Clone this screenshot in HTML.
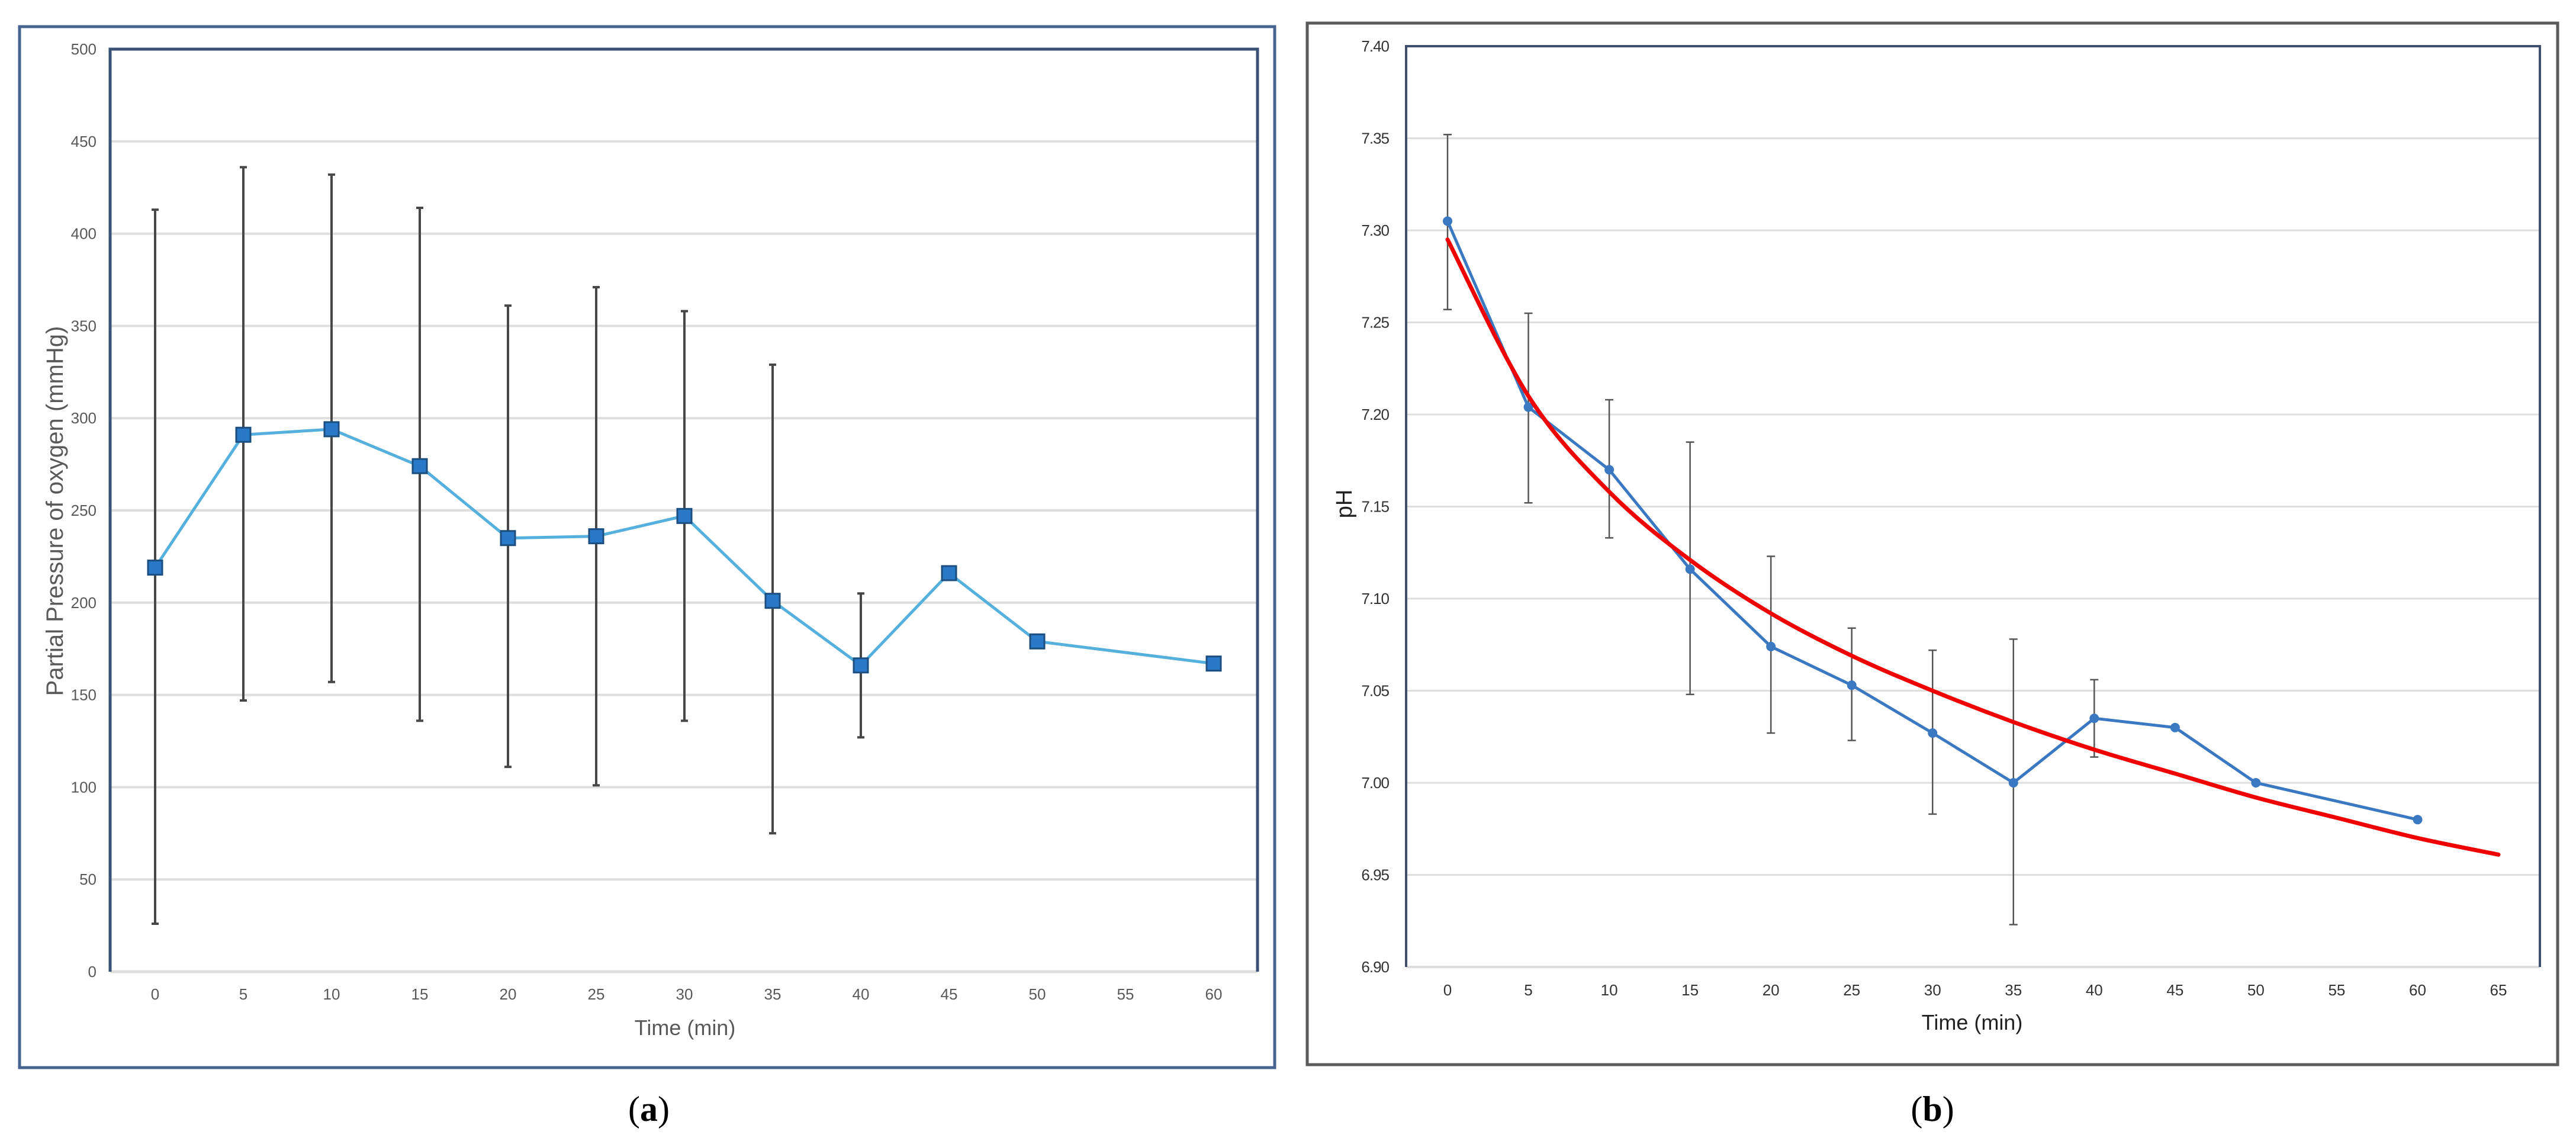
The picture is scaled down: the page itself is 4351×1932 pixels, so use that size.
<!DOCTYPE html>
<html><head><meta charset="utf-8"><style>
html,body{margin:0;padding:0;background:#fff;}
svg{display:block;font-family:"Liberation Sans",Arial,sans-serif;}
</style></head><body>
<svg id="fig" width="4351" height="1932" viewBox="0 0 4351 1932" xmlns="http://www.w3.org/2000/svg">
<rect x="0" y="0" width="4351" height="1932" fill="#fff"/>
<rect x="33" y="45" width="2120" height="1758" fill="none" stroke="#46648f" stroke-width="5"/>
<rect x="2208" y="39" width="2112" height="1759" fill="none" stroke="#5a5a5a" stroke-width="5"/>
<g id="ga"></g>
<g id="gb"></g>
<text x="1096" y="1893" text-anchor="middle" font-family="Liberation Serif,serif" font-size="60" fill="#000">(<tspan font-weight="bold">a</tspan>)</text>
<text x="3264" y="1893" text-anchor="middle" font-family="Liberation Serif,serif" font-size="60" fill="#000">(<tspan font-weight="bold">b</tspan>)</text>
</svg>
<script>
// Chart A data
const aTimes = [0,5,10,15,20,25,30,35,40,45,50,60];
const aValues = [219,291,294,274,235,236,247,201,166,216,179,167];
const aErrHigh = [413,436,432,414,361,371,358,329,205,null,null,null];
const aErrLow = [26,147,157,136,111,101,136,75,127,null,null,null];
const aYTicks = [0,50,100,150,200,250,300,350,400,450,500];
const aXTicks = [0,5,10,15,20,25,30,35,40,45,50,55,60];
// Chart B data
const bTimes = [0,5,10,15,20,25,30,35,40,45,50,60];
const bValues = [7.305,7.204,7.170,7.116,7.074,7.053,7.027,7.000,7.035,7.030,7.000,6.980];
const bErrHigh = [7.352,7.255,7.208,7.185,7.123,7.084,7.072,7.078,7.056,null,null,null];
const bErrLow = [7.257,7.152,7.133,7.048,7.027,7.023,6.983,6.923,7.014,null,null,null];
const fitTimes = [0,5,10,15,20,25,30,35,40,45,50,55,60,65];
const fitValues = [7.295,7.210,7.158,7.121,7.092,7.069,7.050,7.033,7.018,7.005,6.992,6.981,6.970,6.961];
const bYTicks = [6.90,6.95,7.00,7.05,7.10,7.15,7.20,7.25,7.30,7.35,7.40];
const bXTicks = [0,5,10,15,20,25,30,35,40,45,50,55,60,65];

const NS='http://www.w3.org/2000/svg';
function mk(parent,tag,attrs){const e=document.createElementNS(NS,tag);for(const k in attrs)e.setAttribute(k,attrs[k]);parent.appendChild(e);return e;}

// ---- Chart A ----
(function(){
const g=document.getElementById('ga');
const L=186,R=2124,T=83,B=1641;
const xA=t=>262+t*(2050-262)/60;
const yA=v=>B-(v-0)*(B-T)/500;
aYTicks.forEach(v=>{
  if(v>0&&v<500){const l=mk(g,'line',{x1:L,x2:R,y1:yA(v),y2:yA(v),stroke:'#dedede','stroke-width':4});
  
  }
  const t=mk(g,'text',{x:163,y:yA(v)+9,'text-anchor':'end','font-size':26,fill:'#595959'});
  t.textContent=v;
  
  
});
const base=mk(g,'line',{x1:L,x2:R,y1:B,y2:B,stroke:'#dedede','stroke-width':5});


const pb=mk(g,'path',{d:`M${L},${B} L${L},${T} L${R},${T} L${R},${B}`,fill:'none',stroke:'#3a5275','stroke-width':5});


aXTicks.forEach(t=>{
  const e=mk(g,'text',{x:xA(t),y:1688,'text-anchor':'middle','font-size':26,fill:'#595959'});
  e.textContent=t;
  
  
});
const xt=mk(g,'text',{x:1157,y:1748,'text-anchor':'middle','font-size':36,fill:'#595959'});
xt.textContent='Time (min)';


const yt=mk(g,'text',{x:0,y:0,'text-anchor':'middle','font-size':40,fill:'#595959',transform:'translate(106,863) rotate(-90)'});
yt.textContent='Partial Pressure of oxygen (mmHg)';


aTimes.forEach((t,i)=>{
  if(aErrHigh[i]==null)return;
  const x=xA(t);
  const eb=mk(g,'path',{d:`M${x},${yA(aErrHigh[i])} L${x},${yA(aErrLow[i])} M${x-6},${yA(aErrHigh[i])} L${x+6},${yA(aErrHigh[i])} M${x-6},${yA(aErrLow[i])} L${x+6},${yA(aErrLow[i])}`,stroke:'#474747','stroke-width':4,fill:'none'});
  
  
});
const ln=mk(g,'polyline',{points:aTimes.map((t,i)=>xA(t)+','+yA(aValues[i])).join(' '),fill:'none',stroke:'#55b0de','stroke-width':5});


aTimes.forEach((t,i)=>{
  const m=mk(g,'rect',{x:xA(t)-12,y:yA(aValues[i])-12,width:24,height:24,fill:'#2a78c8',stroke:'#1d4e80','stroke-width':3});
  
  
});
})();

// ---- Chart B ----
(function(){
const g=document.getElementById('gb');
const L=2375,R=4290,T=78,B=1633;
const xB=t=>2445+t*(4220-2445)/65;
const yB=v=>B-(v-6.90)*(B-T)/0.5;
bYTicks.forEach(v=>{
  if(v>6.901&&v<7.399){const l=mk(g,'line',{x1:L,x2:R,y1:yB(v),y2:yB(v),stroke:'#dedede','stroke-width':3});
  
  }
  const t=mk(g,'text',{x:2346,y:yB(v)+9,'text-anchor':'end','font-size':26,fill:'#333','letter-spacing':'-1'});
  t.textContent=v.toFixed(2);
  
  
});
const base=mk(g,'line',{x1:L,x2:R,y1:B,y2:B,stroke:'#dedede','stroke-width':4});


const pb=mk(g,'path',{d:`M${L},${B} L${L},${T} L${R},${T} L${R},${B}`,fill:'none',stroke:'#3d4f6a','stroke-width':4});


bXTicks.forEach(t=>{
  const e=mk(g,'text',{x:xB(t),y:1681,'text-anchor':'middle','font-size':26,fill:'#333'});
  e.textContent=t;
  
  
});
const xt=mk(g,'text',{x:3331,y:1739,'text-anchor':'middle','font-size':36,fill:'#222'});
xt.textContent='Time (min)';


const yt=mk(g,'text',{x:0,y:0,'text-anchor':'middle','font-size':38,fill:'#222',transform:'translate(2283,851) rotate(-90)'});
yt.textContent='pH';


bTimes.forEach((t,i)=>{
  if(bErrHigh[i]==null)return;
  const x=xB(t);
  const eb=mk(g,'path',{d:`M${x},${yB(bErrHigh[i])} L${x},${yB(bErrLow[i])} M${x-7},${yB(bErrHigh[i])} L${x+7},${yB(bErrHigh[i])} M${x-7},${yB(bErrLow[i])} L${x+7},${yB(bErrLow[i])}`,stroke:'#555','stroke-width':2.5,fill:'none'});
  
  
});
const ln=mk(g,'polyline',{points:bTimes.map((t,i)=>xB(t)+','+yB(bValues[i])).join(' '),fill:'none',stroke:'#3a78c2','stroke-width':5});


bTimes.forEach((t,i)=>{
  const c=mk(g,'circle',{cx:xB(t),cy:yB(bValues[i]),r:8,fill:'#3a78c2'});
  
  
});
const P=fitTimes.map((t,i)=>[xB(t),yB(fitValues[i])]);
let d=`M${P[0][0]},${P[0][1]}`;
for(let i=0;i<P.length-1;i++){
  const p0=P[Math.max(0,i-1)],p1=P[i],p2=P[i+1],p3=P[Math.min(P.length-1,i+2)];
  const c1=[p1[0]+(p2[0]-p0[0])/6,p1[1]+(p2[1]-p0[1])/6];
  const c2=[p2[0]-(p3[0]-p1[0])/6,p2[1]-(p3[1]-p1[1])/6];
  d+=` C${c1[0]},${c1[1]} ${c2[0]},${c2[1]} ${p2[0]},${p2[1]}`;
}
const fit=mk(g,'path',{d:d,fill:'none',stroke:'#f00000','stroke-width':7,'stroke-linecap':'round'});


})();
</script>
</body></html>
